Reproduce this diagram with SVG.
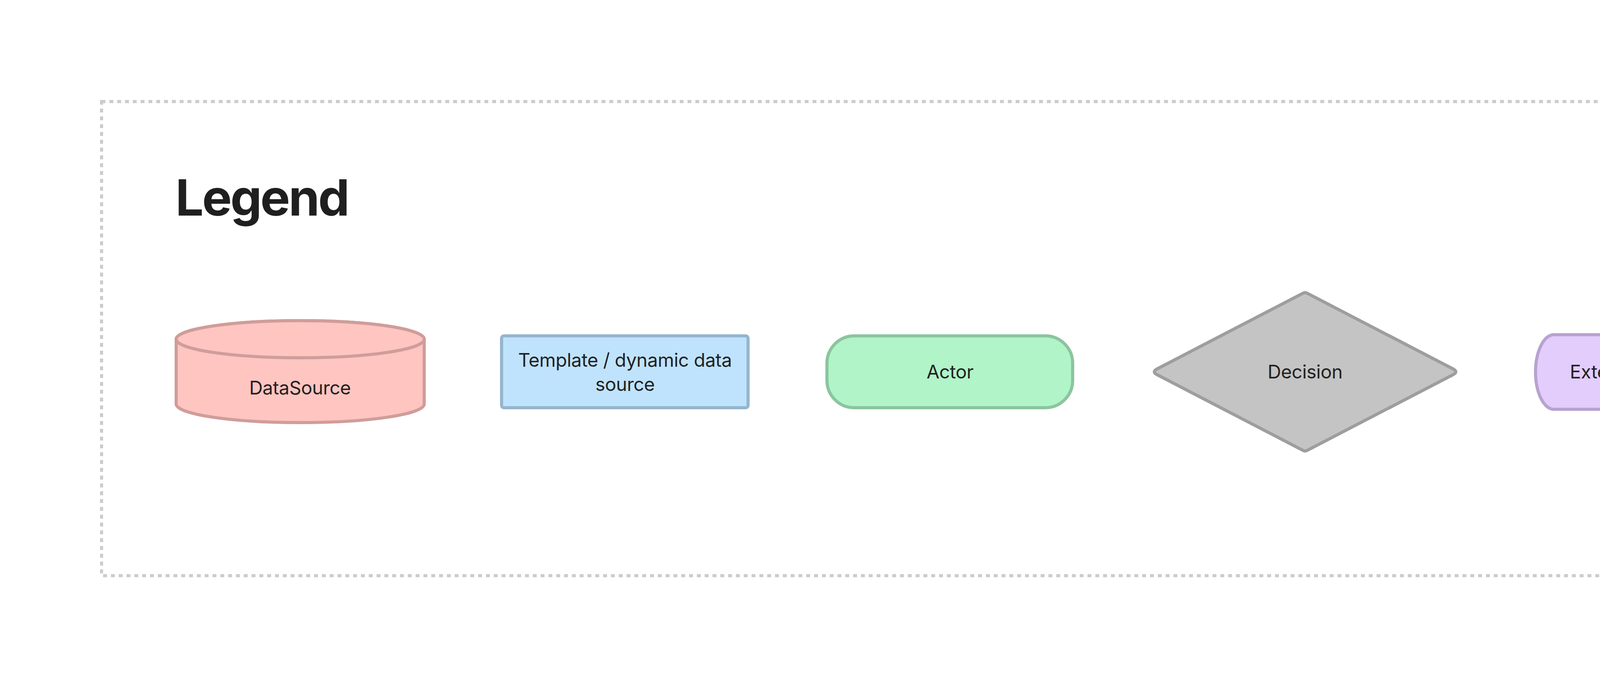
<svg xmlns="http://www.w3.org/2000/svg" width="5500" height="1736" viewBox="0 0 5500 1736">
<style>
.lbl{font-family:Inter,"Noto Sans","Liberation Sans",sans-serif;font-size:48px;letter-spacing:-0.5px;fill:#222;text-anchor:middle}
.title{font-family:Inter,"Noto Sans","Liberation Sans",sans-serif;font-size:128px;letter-spacing:-4px;font-weight:700;fill:#1f1f1f}
.shape{stroke-width:8;stroke-linejoin:round}
</style>
<rect width="5500" height="1736" fill="#ffffff"/>
<g id="legend-frame">
<rect x="260" y="260" width="4980" height="1214" fill="none" stroke="#cccccc" stroke-width="8" stroke-dasharray="10 10"/>
<text class="title" x="449" y="552">Legend</text>
</g>
<g id="connectors"></g>
<g id="node-datasource">
<path class="shape" d="M451,868.5 L451,1034.5 A317.5,47.5 0 0 0 1086,1034.5 L1086,868.5 A317.5,47.5 0 0 0 451,868.5 Z" fill="#fec5c1" stroke="#cf9d9a"/>
<ellipse class="shape" cx="768.5" cy="868.5" rx="317.5" ry="47.5" fill="#fec5c1" stroke="#cf9d9a"/>
<text class="lbl" x="768" y="1010">DataSource</text>
</g>
<g id="node-template">
<rect class="shape" x="1284" y="860" width="631" height="184" rx="6" fill="#bfe3fc" stroke="#96b5cd"/>
<text class="lbl" x="1600" y="939">Template / dynamic data</text>
<text class="lbl" x="1600" y="1001">source</text>
</g>
<g id="node-actor">
<rect class="shape" x="2117" y="860" width="629" height="184" rx="70" fill="#b0f4c8" stroke="#8cc49f"/>
<text class="lbl" x="2432" y="969">Actor</text>
</g>
<g id="node-decision">
<path class="shape" d="M2962.2,944.6 L3335.7,750.8 Q3341,748 3346.3,750.8 L3719.8,944.6 Q3734,952 3719.8,959.4 L3346.3,1153.2 Q3341,1156 3335.7,1153.2 L2962.2,959.4 Q2948,952 2962.2,944.6 Z" fill="#c4c4c4" stroke="#9e9e9e"/>
<text class="lbl" x="3341" y="969">Decision</text>
</g>
<g id="node-external">
<path class="shape" d="M3978,857 L4522,857 A47,95.5 0 0 1 4522,1048 L3978,1048 A47,95.5 0 0 1 3978,857 Z" fill="#e3cdfd" stroke="#b8a2cf"/>
<ellipse class="shape" cx="4522" cy="952.5" rx="47" ry="95.5" fill="#e3cdfd" stroke="#b8a2cf"/>
<text class="lbl" x="4208" y="969">External Protocol</text>
</g>
<g id="node-event">
<text class="lbl" x="4873" y="969" style="font-weight:700;fill:#333333">Event</text>
</g>
</svg>
